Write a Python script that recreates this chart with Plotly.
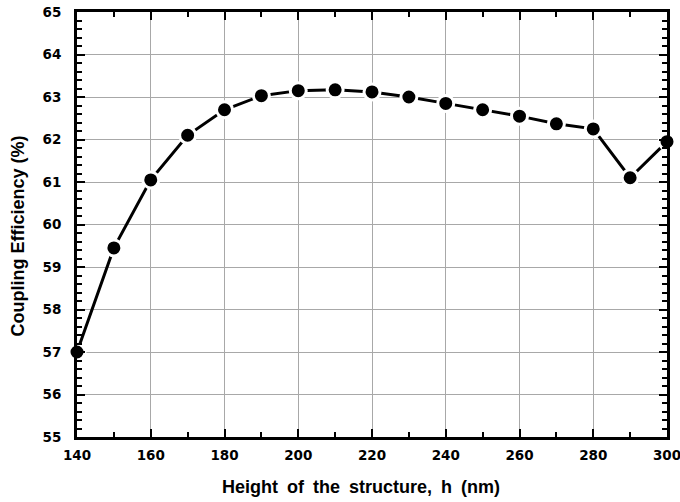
import plotly.graph_objects as go

# Structure height (nm) and the resulting coupling efficiency (%)
heights = [140, 150, 160, 170, 180, 190, 200, 210, 220, 230, 240, 250, 260, 270, 280, 290, 300]
efficiency = [57.0, 59.45, 61.05, 62.1, 62.7, 63.03, 63.15, 63.17, 63.12, 63.0, 62.85,
              62.7, 62.55, 62.37, 62.25, 61.1, 61.95]

x_ticks = [140, 160, 180, 200, 220, 240, 260, 280, 300]
y_ticks = [55, 56, 57, 58, 59, 60, 61, 62, 63, 64, 65]

x_title = "Height\u2002of\u2002the\u2002structure,\u2002h\u2002(nm)"
y_title = "Coupling Efficiency (%)"

fig = go.Figure()
fig.add_trace(go.Scatter(
    x=heights, y=efficiency, mode="lines+markers",
    line=dict(color="black", width=3),
    marker=dict(color="black", size=16, line=dict(color="white", width=3)),
    cliponaxis=False,
))

tick_font = dict(family="DejaVu Sans", size=13.5, color="black", weight="bold")
title_font = dict(family="Liberation Sans", size=18, color="black", weight="bold")

common = dict(
    showline=True, linecolor="black", linewidth=3, mirror="ticks",
    ticks="inside", ticklen=8, tickwidth=2, tickcolor="black",
    showgrid=True, gridcolor="#a8a8a8", gridwidth=1, zeroline=False,
    tickfont=tick_font, automargin=False, ticklabeloverflow="allow",
)

fig.update_xaxes(
    range=[140, 300], tickvals=x_ticks,
    minor=dict(dtick=10, ticks="inside", ticklen=5, tickwidth=2, tickcolor="black", showgrid=False),
    ticklabelstandoff=4,
    **common,
)
fig.update_yaxes(
    range=[55, 65], tickvals=y_ticks,
    minor=dict(dtick=0.2, ticks="inside", ticklen=5, tickwidth=2, tickcolor="black", showgrid=False),
    ticklabelstandoff=10,
    **common,
)

# Axis titles placed as annotations
fig.add_annotation(text=x_title, xref="paper", yref="paper", x=0.482, y=-0.118,
                   xanchor="center", yanchor="middle", showarrow=False, font=title_font)
fig.add_annotation(text=y_title, xref="paper", yref="paper", x=-0.1, y=0.472,
                   xanchor="center", yanchor="middle", showarrow=False, font=title_font,
                   textangle=-90)

fig.update_layout(
    width=680, height=502,
    margin=dict(l=77, r=13, t=12, b=65),
    paper_bgcolor="white", plot_bgcolor="white",
    showlegend=False,
)

fig.write_html("out.html")
